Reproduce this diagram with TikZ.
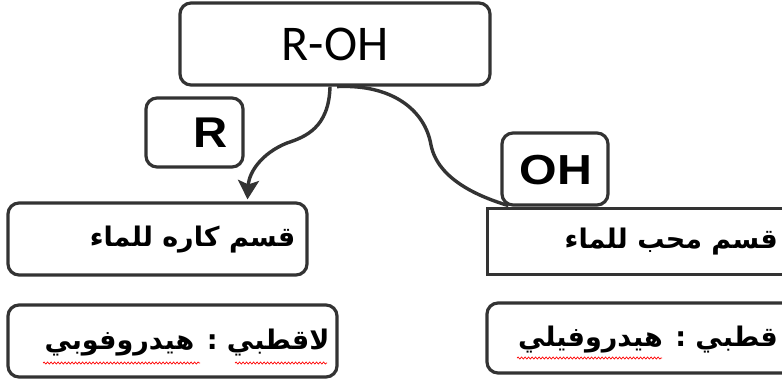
\documentclass[tikz,border=0pt]{standalone}
\usepackage{fontspec}
\setmainfont{Liberation Sans}
\newfontfamily\arabicfont[Script=Arabic]{DejaVu Sans}
\newfontfamily\calib{Carlito}
\TeXXeTstate=1
\usetikzlibrary{arrows.meta,decorations.pathmorphing,backgrounds}
\definecolor{edge}{HTML}{333333}
\tikzset{
  box/.style={draw=edge, line width=3.2pt, fill=white, rounded corners=11pt, inner sep=0pt},
  sqbox/.style={draw=edge, line width=3pt, fill=white, inner sep=0pt},
  artext/.style={anchor=east, inner sep=0pt, font=\arabicfont\bfseries\fontsize{27}{32}\selectfont},
  link/.style={draw=edge, line width=3.4pt},
  squig/.style={red, line width=0.7pt, decorate, decoration={snake, amplitude=1pt, segment length=3.5pt}}
}
\begin{document}
\begin{tikzpicture}[x=1pt,y=-1pt]
\useasboundingbox (0,0) rectangle (782,381);
\clip (0,0) rectangle (782,381);
% boxes
\node[box, minimum width=310pt, minimum height=82pt] (roh) at (335,44) {};
\node[anchor=center, font=\calib\fontsize{50}{56}\selectfont] (rohtxt) at (335,44) {R-OH};
\node[box, minimum width=97pt, minimum height=69pt] (rbox) at (194.5,132.5) {};
\node[anchor=east, inner sep=0pt, font=\bfseries\fontsize{43}{48}\selectfont] (rtxt) at (228,133) {\scalebox{1.1}[1]{R}};
\node[box, minimum width=299pt, minimum height=72pt] (kare) at (157.5,239) {};
\node[sqbox, minimum width=310pt, minimum height=66pt] (moheb) at (642,241) {};
\node[box, minimum width=329pt, minimum height=72pt] (laqutbi) at (172.5,341) {};
\node[box, minimum width=310pt, minimum height=70pt] (qutbi) at (642,338) {};
\node[box, minimum width=106pt, minimum height=72pt] (ohbox) at (555,169) {};
\node[anchor=center, inner sep=0pt, font=\bfseries\fontsize{42}{48}\selectfont] (ohtxt) at (556,170) {\scalebox{1.15}[1]{OH}};
% connectors
\draw[link, -{Stealth[length=19pt,width=21pt,inset=4pt]}] ([xshift=-5pt]roh.south)
  .. controls (329,128) and (305,137) .. (287,143)
  .. controls (262,153) and (249,172) .. ([xshift=90pt,yshift=2pt]kare.north);
\begin{pgfonlayer}{background}
\draw[link] ([xshift=2pt]roh.south)
  .. controls (392,84) and (425,110) .. (431,145)
  .. controls (438,180) and (480,197) .. ([xshift=8pt,yshift=1pt]ohbox.south west);
\end{pgfonlayer}
% texts
\node[artext] (t1) at ([xshift=-13pt,yshift=-1pt]kare.east) {\beginR قسم كاره للماء\endR};
\node[artext] (t2) at ([yshift=-1pt]moheb.east -| 778,0) {\beginR قسم محب للماء\endR};
\node[artext] (t3) at ([xshift=-9pt,yshift=-2pt]laqutbi.east) {\beginR لاقطبي : هيدروفوبي\endR};
\node[artext] (t4) at ([yshift=-2pt]qutbi.east -| 778,0) {\beginR قطبي : هيدروفيلي\endR};
% spell-check marks
\draw[squig] (43,363) -- (200,363);
\draw[squig] (235,363) -- (327,363);
\draw[squig] (517,358) -- (662,358);
\end{tikzpicture}
\end{document}
